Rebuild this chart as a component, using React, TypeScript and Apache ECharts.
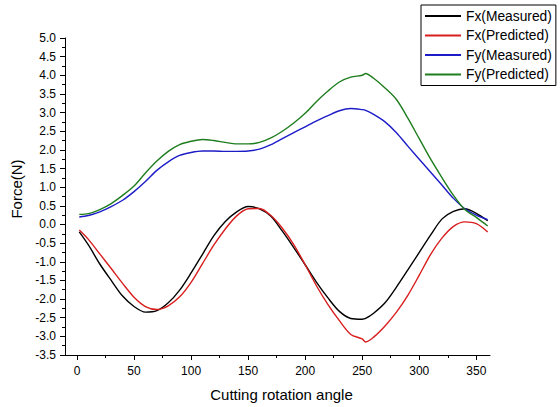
import React, { useEffect, useRef } from "react";
import * as echarts from "echarts";

const angles = [2, 10, 20, 30, 40, 50, 60, 70, 80, 90, 100, 110, 120, 130, 140, 150, 160, 170, 180, 190, 200, 210, 220, 230, 240, 250, 253, 260, 270, 280, 290, 300, 310, 320, 330, 340, 350, 360];

const fxMeasured = [-0.2, -0.55, -1.06, -1.5, -1.92, -2.2, -2.35, -2.31, -2.1, -1.76, -1.3, -0.8, -0.3, 0.08, 0.34, 0.48, 0.42, 0.22, -0.18, -0.62, -1.08, -1.55, -1.97, -2.33, -2.52, -2.54, -2.52, -2.38, -2.1, -1.68, -1.22, -0.75, -0.28, 0.15, 0.35, 0.42, 0.3, 0.1];

const fxPredicted = [-0.15, -0.4, -0.79, -1.18, -1.58, -1.95, -2.2, -2.28, -2.18, -1.94, -1.55, -1.05, -0.55, -0.12, 0.23, 0.42, 0.43, 0.24, -0.1, -0.54, -1.08, -1.65, -2.15, -2.58, -2.95, -3.07, -3.15, -3.02, -2.72, -2.35, -1.9, -1.36, -0.8, -0.36, -0.05, 0.07, 0.02, -0.2];

const fyMeasured = [0.2, 0.24, 0.34, 0.48, 0.65, 0.88, 1.15, 1.45, 1.68, 1.85, 1.93, 1.97, 1.97, 1.96, 1.96, 1.97, 2.02, 2.14, 2.3, 2.46, 2.62, 2.78, 2.92, 3.05, 3.11, 3.08, 3.06, 2.95, 2.75, 2.46, 2.1, 1.75, 1.4, 1.05, 0.7, 0.42, 0.25, 0.13];

const fyPredicted = [0.27, 0.29, 0.4, 0.56, 0.78, 1.03, 1.38, 1.7, 1.96, 2.14, 2.23, 2.28, 2.25, 2.2, 2.16, 2.16, 2.2, 2.32, 2.5, 2.72, 2.98, 3.3, 3.58, 3.82, 3.95, 4.0, 4.05, 3.92, 3.66, 3.35, 2.85, 2.3, 1.75, 1.25, 0.78, 0.4, 0.19, -0.04];

const seriesNames = ["Fx(Measured)", "Fx(Predicted)", "Fy(Measured)", "Fy(Predicted)"];
const seriesColors = ["#000000", "#d81e1e", "#1c1cc8", "#1e7d1e"];
const seriesValues = [fxMeasured, fxPredicted, fyMeasured, fyPredicted];

const xMajorTicks = [0, 50, 100, 150, 200, 250, 300, 350];
const xMinorTicks = [25, 75, 125, 175, 225, 275, 325];

export default function App() {
  const ref = useRef<HTMLDivElement>(null);
  useEffect(() => {
    if (!ref.current) return;
    const chart = echarts.init(ref.current, null, { renderer: "svg" });
    const font = "Arial, 'Liberation Sans', sans-serif";
    chart.setOption({
      animation: false,
      backgroundColor: "#ffffff",
      grid: { left: 65, top: 38, right: 70, bottom: 48, containLabel: false },
      legend: {
        data: seriesNames,
        orient: "vertical",
        left: 421,
        top: 5,
        padding: [4, 4, 4, 4],
        borderColor: "#000",
        borderWidth: 1,
        itemWidth: 36,
        itemHeight: 2,
        itemGap: 5.5,
        icon: "rect",
        textStyle: { fontFamily: font, fontSize: 13.8, color: "#000" },
      },
      xAxis: [
        {
          type: "value",
          min: -10.5,
          max: 362,
          name: "Cutting rotation angle",
          nameLocation: "middle",
          nameGap: 32,
          nameTextStyle: { fontFamily: font, fontSize: 15, color: "#000", padding: [0, 0, 0, 8] },
          axisLine: { show: true, onZero: false, lineStyle: { color: "#000", width: 1 } },
          axisTick: { show: true, inside: false, length: 5, customValues: xMajorTicks, lineStyle: { color: "#000" } },
          axisLabel: { show: true, customValues: xMajorTicks, margin: 10, fontFamily: font, fontSize: 12, color: "#000" },
          splitLine: { show: false },
        },
        {
          type: "value",
          min: -10.5,
          max: 362,
          position: "bottom",
          axisLine: { show: false, onZero: false },
          axisTick: { show: true, inside: false, length: 3, customValues: xMinorTicks, lineStyle: { color: "#000" } },
          axisLabel: { show: false, customValues: xMinorTicks },
          splitLine: { show: false },
        },
      ],
      yAxis: {
        type: "value",
        min: -3.5,
        max: 5.0,
        interval: 0.5,
        name: "Force(N)",
        nameLocation: "middle",
        nameGap: 39,
        nameTextStyle: { fontFamily: font, fontSize: 15, color: "#000", padding: [0, 0, 0, 15] },
        axisLine: { show: true, onZero: false, lineStyle: { color: "#000", width: 1 } },
        axisTick: { show: true, inside: false, length: 5, lineStyle: { color: "#000" } },
        minorTick: { show: true, splitNumber: 2, length: 3, lineStyle: { color: "#000" } },
        axisLabel: {
          margin: 9,
          fontFamily: font,
          fontSize: 12,
          color: "#000",
          formatter: (v: number) => v.toFixed(1),
        },
        splitLine: { show: false },
        minorSplitLine: { show: false },
      },
      series: seriesNames.map((name, i) => ({
        name,
        type: "line",
        xAxisIndex: 0,
        data: angles.map((a, j) => [a, seriesValues[i][j]]),
        showSymbol: false,
        symbol: "none",
        smooth: 0.3,
        lineStyle: { color: seriesColors[i], width: 1.4 },
        itemStyle: { color: seriesColors[i] },
      })),
    });
    return () => chart.dispose();
  }, []);
  return (
    <div
      ref={ref}
      style={{ position: "fixed", left: 0, top: 0, width: 560, height: 407, background: "#fff" }}
    />
  );
}
